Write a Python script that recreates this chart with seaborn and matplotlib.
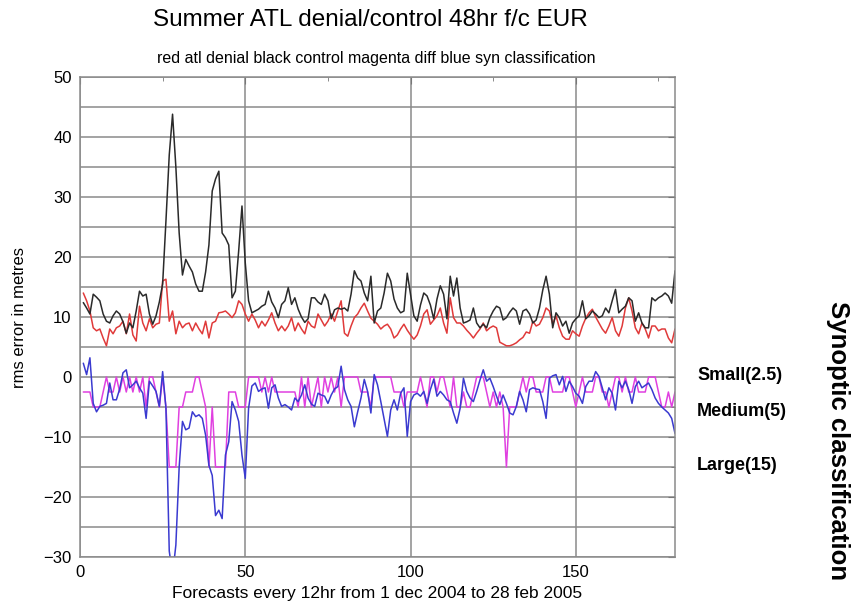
import numpy as np
import pandas as pd
import matplotlib
matplotlib.use("Agg")
import matplotlib.pyplot as plt
import seaborn as sns
from matplotlib.ticker import MultipleLocator

# ---- data ----
forecast = list(range(1, 181))

control_black = [
    12.4, 11.5, 10.5, 13.8, 13.3, 12.7, 10.5, 9.3, 9.0, 10.2,
    11.0, 10.5, 9.2, 7.3, 9.0, 8.2, 11.0, 14.3, 13.5, 13.8,
    10.5, 8.8, 10.2, 12.5, 15.5, 26.0, 37.0, 43.8, 35.0, 24.0,
    17.0, 19.6, 18.5, 17.5, 15.5, 14.3, 14.3, 17.5, 22.0, 31.0,
    33.0, 34.3, 24.0, 23.2, 22.0, 13.2, 14.3, 21.0, 28.5, 19.0,
    12.7, 10.7, 11.0, 11.3, 11.8, 12.1, 14.3, 12.5, 11.5, 9.9,
    12.1, 12.7, 14.9, 12.1, 13.2, 11.3, 10.0, 9.1, 9.7, 13.2,
    13.2, 12.5, 12.1, 13.8, 12.7, 9.7, 11.2, 11.5, 11.3, 11.5,
    11.0, 13.8, 17.7, 16.5, 16.0, 14.0, 12.7, 16.8, 9.0, 11.0,
    11.5, 14.0, 17.3, 16.0, 13.0, 11.5, 10.7, 11.0, 17.3, 13.8,
    10.2, 9.3, 12.0, 14.0, 13.5, 12.0, 9.7, 13.0, 15.2, 13.8,
    9.7, 16.8, 13.5, 16.5, 11.5, 9.0, 9.2, 9.5, 11.5, 9.0,
    8.2, 8.8, 8.2, 9.9, 11.0, 11.8, 11.5, 9.5, 9.9, 10.8,
    11.5, 11.0, 8.8, 11.0, 11.3, 10.5, 9.0, 9.5, 11.5, 14.5,
    16.8, 13.8, 8.2, 10.7, 9.9, 8.5, 9.3, 7.3, 9.0, 9.7,
    10.2, 12.7, 9.7, 10.2, 11.0, 10.5, 9.9, 10.2, 11.5, 10.7,
    12.7, 14.6, 10.7, 11.3, 11.8, 13.2, 12.7, 9.3, 10.7, 9.0,
    8.2, 8.2, 13.2, 12.7, 13.2, 13.5, 14.0, 13.5, 12.3, 17.7,
]

denial_red = [
    14.0, 12.7, 11.0, 8.2, 7.7, 8.0, 6.5, 5.2, 8.0, 7.2,
    8.2, 8.5, 9.3, 7.2, 10.5, 7.0, 6.0, 11.8, 9.0, 7.7,
    9.7, 8.2, 8.8, 9.0, 16.0, 16.3, 9.3, 11.0, 7.2, 9.3,
    8.2, 8.8, 9.0, 7.7, 9.0, 8.0, 7.2, 9.3, 6.5, 9.0,
    9.3, 10.7, 10.8, 11.0, 10.5, 9.9, 10.7, 12.7, 12.1, 10.5,
    9.3, 10.5, 9.5, 8.2, 9.3, 8.5, 9.5, 10.7, 9.0, 7.7,
    8.5, 7.7, 8.5, 9.9, 7.7, 9.0, 8.0, 7.2, 9.3, 8.5,
    8.2, 10.5, 9.5, 8.5, 9.3, 10.5, 9.3, 11.0, 12.7, 7.3,
    6.8, 8.5, 9.9, 10.5, 11.5, 12.3, 11.0, 9.8, 9.3, 8.8,
    8.0, 8.5, 8.8, 8.0, 6.5, 7.0, 8.0, 8.8, 7.8, 7.0,
    6.3, 7.0, 8.5, 10.5, 11.2, 8.8, 9.5, 10.2, 11.5, 9.0,
    7.3, 13.2, 9.9, 9.0, 9.0, 8.5, 7.8, 7.2, 6.5, 7.3,
    8.0, 9.0, 7.7, 8.2, 8.5, 8.2, 5.8, 5.5, 5.2, 5.2,
    5.4, 5.7, 6.2, 6.6, 7.5, 7.3, 9.3, 8.5, 8.8, 9.9,
    11.5, 11.0, 8.8, 10.2, 8.2, 6.8, 6.3, 6.3, 7.7, 7.2,
    6.8, 8.5, 9.8, 10.7, 11.3, 10.0, 9.0, 8.0, 7.3, 8.5,
    9.9, 7.7, 6.8, 8.5, 11.5, 13.2, 11.0, 8.2, 7.2, 9.0,
    8.0, 6.5, 8.5, 8.5, 7.7, 8.0, 8.0, 6.5, 5.7, 8.0,
]

diff_blue = [
    2.3, 0.4, 3.2, -4.4, -5.8, -4.9, -4.7, -4.4, -1.0, -3.8,
    -3.8, -2.0, 0.7, 1.2, -1.8, -1.3, -0.7, -1.8, -2.7, -6.9,
    -0.7, -1.5, -2.4, -4.9, 0.9, -5.2, -29.0, -33.0, -28.0, -15.0,
    -7.4, -8.8, -8.5, -5.8, -6.6, -6.3, -6.9, -9.7, -14.7, -16.4,
    -23.1, -22.2, -23.6, -13.0, -10.8, -4.1, -5.5, -7.4, -13.0, -16.9,
    -5.2, -1.5, -1.0, -2.4, -2.0, -1.8, -5.2, -1.8, -1.3, -3.5,
    -4.9, -4.6, -5.0, -5.5, -3.5, -4.1, -3.0, -1.3, -3.5, -4.5,
    -4.9, -2.7, -3.0, -3.2, -4.4, -3.0, -2.0, -1.6, 1.8, -2.1,
    -3.8, -4.9, -8.3, -5.8, -3.5, -0.4, -2.4, -6.0, 0.4, -1.3,
    -4.1, -7.0, -9.9, -5.5, -3.8, -5.5, -2.7, -1.8, -9.9, -4.1,
    -3.0, -2.7, -3.2, -2.4, -4.4, -2.1, -0.4, -3.2, -2.4, -3.0,
    -3.8, -4.1, -6.0, -7.7, -5.2, -0.2, -2.4, -3.5, -4.1, -2.4,
    -0.5, 1.2, -0.7, -0.2, -1.6, -3.2, -4.6, -3.0, -4.4, -6.0,
    -6.3, -4.9, -2.4, -3.8, -5.8, -2.1, -1.8, -2.0, -2.1, -4.1,
    -6.9, -0.2, 0.2, 0.4, -1.3, 0.1, -2.4, -0.7, -1.6, -2.7,
    -3.2, -4.4, -1.6, -0.7, -0.7, 0.9, 0.1, -1.8, -3.8, -1.8,
    -2.7, -5.5, -0.7, -1.8, -0.7, -2.1, -4.4, -1.6, -0.7, -1.8,
    -1.4, -1.0, -2.1, -3.5, -4.4, -5.0, -5.5, -6.0, -6.9, -9.4,
]

syn_magenta = [
    -2.5, -2.5, -2.5, -5, -5, -5, -2.5, 0, -2.5, -2.5,
    0, -2.5, 0, -2.5, 0, -2.5, 0, -2.5, 0, -5,
    0, 0, -2.5, -5, 0, -5, -15, -15, -15, -5,
    -5, -2.5, -2.5, -2.5, 0, 0, -2.5, -5, -15, -5,
    -15, -15, -15, -15, -2.5, -2.5, -2.5, -5, -5, -5,
    0, 0, 0, 0, -2.5, 0, -2.5, 0, -2.5, -2.5,
    -2.5, -2.5, -2.5, -2.5, -2.5, -5, 0, -5, 0, -5,
    -2.5, 0, -5, 0, -2.5, 0, -2.5, 0, -5, 0,
    0, 0, 0, 0, -2.5, -2.5, -2.5, -5, 0, 0,
    0, 0, 0, 0, -2.5, -2.5, -2.5, -5, -2.5, -2.5,
    -2.5, -2.5, 0, -2.5, -5, 0, 0, -2.5, 0, 0,
    -2.5, -5, 0, -5, -5, -2.5, -5, -5, -2.5, 0,
    0, 0, -2.5, -5, -2.5, -5, -2.5, -5, -15, -5,
    -5, -5, -2.5, 0, -2.5, 0, 0, -2.5, -2.5, -2.5,
    0, 0, -2.5, -2.5, -2.5, -2.5, 0, 0, -2.5, -5,
    -2.5, 0, -2.5, -2.5, -2.5, 0, 0, -2.5, -2.5, -5,
    -2.5, 0, 0, -2.5, 0, -2.5, -2.5, 0, -2.5, -2.5,
    -2.5, 0, 0, 0, -2.5, -5, -5, -2.5, -5, -2.5,
]

x_ticks = [0, 50, 100, 150]
y_ticks = [-30, -20, -10, 0, 10, 20, 30, 40, 50]
class_labels = ["Small(2.5)", "Medium(5)", "Large(15)"]

title = "Summer ATL denial/control 48hr f/c EUR"
subtitle = "red atl denial black control magenta diff blue syn classification"
xlabel = "Forecasts every 12hr from 1 dec 2004 to 28 feb 2005"
ylabel = "rms error in metres"

# ---- plotting ----
sns.set_style("white")
plt.rcParams['font.family'] = ['Liberation Sans', 'DejaVu Sans']
plt.rcParams['text.color'] = 'black'
plt.rcParams['axes.labelcolor'] = 'black'
plt.rcParams['xtick.color'] = 'black'
plt.rcParams['ytick.color'] = 'black'

fig = plt.figure(figsize=(8.56, 6.03), dpi=100)
ax = fig.add_axes([80 / 856, 1 - 557 / 603, 595 / 856, 480 / 603])

df = pd.DataFrame({
    "t": forecast,
    "control": control_black,
    "denial": denial_red,
    "diff": diff_blue,
    "syn": syn_magenta,
})

lw = 1.1
sns.lineplot(data=df, x="t", y="syn", color="#e040e0", lw=lw, ax=ax)
sns.lineplot(data=df, x="t", y="diff", color="#3a3ad0", lw=lw, ax=ax)
sns.lineplot(data=df, x="t", y="denial", color="#e03a3a", lw=lw, ax=ax)
sns.lineplot(data=df, x="t", y="control", color="#2a2a2a", lw=lw, ax=ax)

ax.set_xlim(0, 180)
ax.set_ylim(-30, 50)
ax.set_xticks(x_ticks)
ax.set_yticks(y_ticks)
ax.xaxis.set_minor_locator(MultipleLocator(25))
ax.yaxis.set_minor_locator(MultipleLocator(5))
ax.grid(True, which="major", color="#8a8a8a", lw=1.1)
ax.grid(True, which="minor", axis="y", color="#8a8a8a", lw=1.1)
ax.set_axisbelow(True)
ax.tick_params(which="both", direction="in", top=True, right=True,
               labelsize=12, color="#777777", labelcolor="black")
ax.tick_params(which="major", length=5, pad=6)
ax.tick_params(which="minor", length=3)
for s in ax.spines.values():
    s.set_color("#8a8a8a")
    s.set_linewidth(1.1)

ax.set_xlabel(xlabel, fontsize=12.5, labelpad=4)
ax.set_ylabel(ylabel, fontsize=12, labelpad=12)

fig.text(370 / 856, 1 - 20 / 603, title, ha="center", va="center", fontsize=17.5)
fig.text(376 / 856, 1 - 58 / 603, subtitle, ha="center", va="center", fontsize=11.5)

label_y = [376, 412, 465]
for lab, py in zip(class_labels, label_y):
    fig.text(697 / 856, 1 - py / 603, lab, ha="left", va="center",
             fontsize=13, fontweight="bold")
fig.text(838 / 856, 1 - 441 / 603, "Synoptic classification", ha="center",
         va="center", rotation=-90, fontsize=18.5, fontweight="bold")

fig.savefig("out.png", dpi=100)
